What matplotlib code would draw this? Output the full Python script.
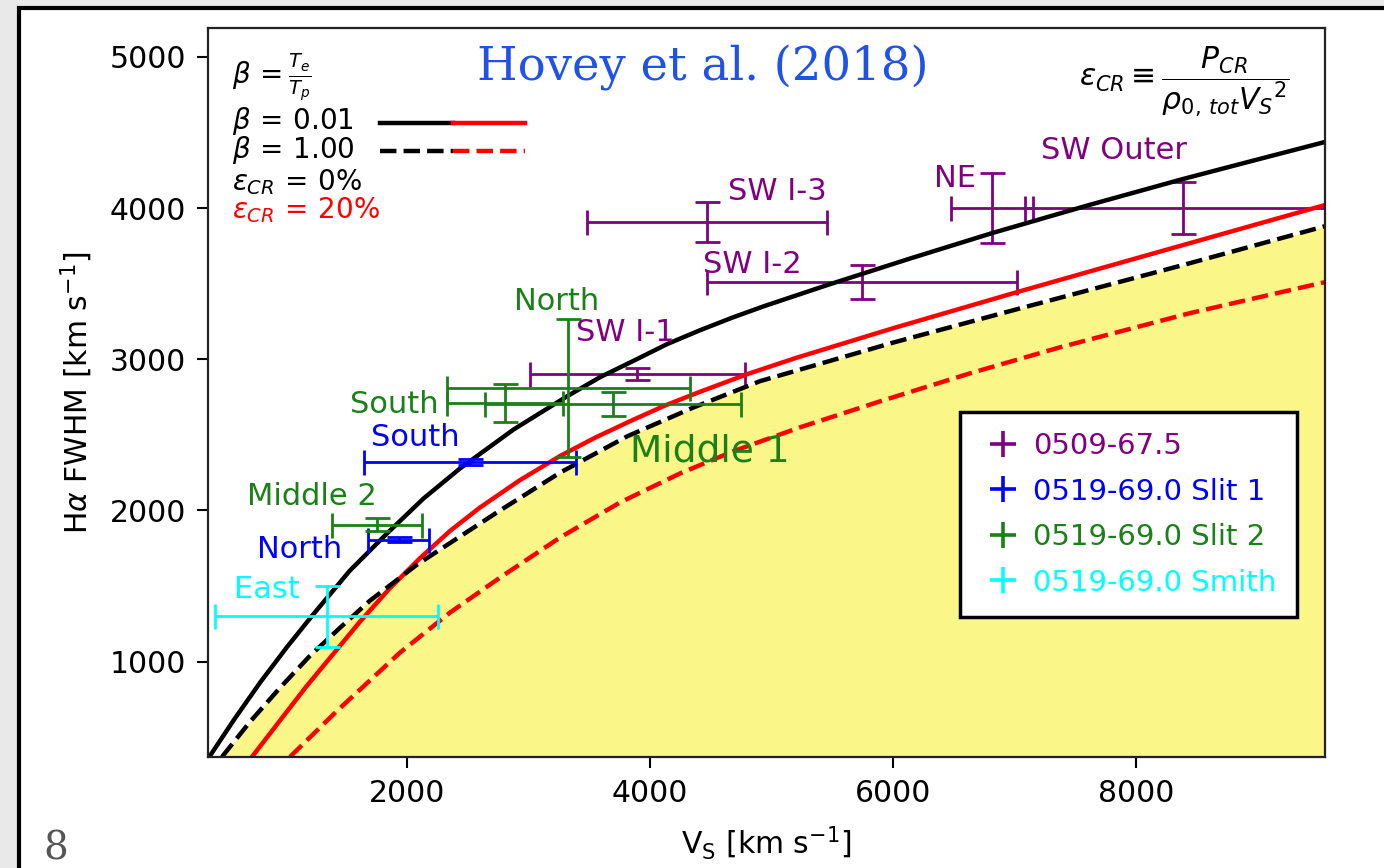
import matplotlib
matplotlib.use("Agg")
import matplotlib.pyplot as plt
from matplotlib.lines import Line2D
from matplotlib.patches import Rectangle
from matplotlib.legend_handler import HandlerTuple

# model curves: shock speed (km/s) vs H-alpha FWHM (km/s)
# beta = 0.01, eps_CR = 0
vs_b001_e0 = [362, 578, 794, 1010, 1226, 1528, 1831, 2134, 2436, 2876, 3317, 3590, 3865,
              4140, 4412, 4670, 4935, 5457, 6136, 6815, 7601, 8387, 8972, 9556]
fw_b001_e0 = [358, 619, 866, 1095, 1311, 1601, 1845, 2078, 2278, 2535, 2755, 2882, 2990,
              3100, 3192, 3273, 3350, 3490, 3665, 3834, 4017, 4192, 4315, 4437]
# beta = 0.01, eps_CR = 20%
vs_b001_e20 = [724, 1168, 1613, 1860, 2107, 2354, 2601, 2930, 3259, 3547, 3835, 4123,
               4412, 4809, 5206, 6000, 7021, 7704, 8387, 9556]
fw_b001_e20 = [371, 833, 1265, 1487, 1685, 1865, 2020, 2201, 2360, 2481, 2590, 2694,
               2785, 2904, 3010, 3205, 3444, 3600, 3755, 4020]
# beta = 1.00, eps_CR = 0
vs_b1_e0 = [477, 708, 955, 1202, 1449, 1695, 2082, 2436, 2765, 3259, 3811, 4354,
            4905, 6000, 7021, 8387, 9556]
fw_b1_e0 = [371, 603, 828, 1040, 1225, 1404, 1642, 1828, 2000, 2250, 2490, 2680,
            2855, 3110, 3331, 3623, 3880]
# beta = 1.00, eps_CR = 20%
vs_b1_e20 = [1037, 1424, 1942, 2354, 2765, 3259, 3753, 4247, 4683, 5235, 5918, 6634,
             7374, 8444, 9556]
fw_b1_e20 = [371, 675, 1060, 1325, 1556, 1821, 2053, 2245, 2391, 2550, 2728, 2907,
             3079, 3305, 3510]

# 0509-67.5
p_names = ["SW I-3", "SW I-2", "SW I-1", "NE", "SW Outer"]
p_vs = [4470, 5745, 3893, 6815, 8387]
p_vs_err = [990, 1275, 885, 337, 1301]
p_fw = [3907, 3510, 2900, 4000, 4000]
p_fw_err = [133, 110, 40, 232, 170]

# 0519-69.0 slit 1
b_names = ["South", "North"]
b_vs = [2518, 1930]
b_vs_err = [870, 250]
b_fw = [2318, 1808]
b_fw_err = [20, 15]

# 0519-69.0 slit 2
g_names = ["North", "South", "Middle 1", "Middle 2"]
g_vs = [3325, 2807, 3695, 1753]
g_vs_err = [1000, 478, 1050, 370]
g_fw = [2808, 2709, 2705, 1907]
g_fw_err = [457, 126, 80, 45]

# 0519-69.0 Smith
c_names = ["East"]
c_vs = [1340]
c_vs_err = [918]
c_fw = [1300]
c_fw_err = [200]

# label anchor positions (data coords)
p_lab_x = [5045, 4840, 3794, 6510, 7819]
p_lab_y = [4106, 3629, 3179, 4192, 4377]
b_lab_x = [2066, 1119]
b_lab_y = [2483, 1742]
g_lab_x = [3235, 1893, 4494, 1218]
g_lab_y = [3384, 2702, 2391, 2093]
c_lab_x = [848]
c_lab_y = [1477]

legend_names = ["0509-67.5", "0519-69.0 Slit 1", "0519-69.0 Slit 2", "0519-69.0 Smith"]

PURPLE = "#800080"
BLUE = "#0000ff"
GREEN = "#1a8017"
CYAN = "#00ffff"
LW = 3.2

fig = plt.figure(figsize=(13.84, 8.68), dpi=100, facecolor="#e9e9e9")
# slide panel with black border on top and left
fig.patches.append(Rectangle((0.0138, -0.2), 1.2, 1.1908, transform=fig.transFigure,
                             facecolor="white", edgecolor="black", lw=3, zorder=-10))

ax = fig.add_axes([0.1503, 0.1279, 0.8071, 0.8398])
ax.set_xlim(362, 9555)
ax.set_ylim(370, 5190)

ax.fill_between(vs_b1_e0, fw_b1_e0, 0, color="#fbf688", lw=0, zorder=1)

ax.plot(vs_b001_e0, fw_b001_e0, color="black", lw=LW, zorder=2)
ax.plot(vs_b001_e20, fw_b001_e20, color="red", lw=LW, zorder=2)
ax.plot(vs_b1_e0, fw_b1_e0, color="black", lw=LW, ls="--", zorder=2)
ax.plot(vs_b1_e20, fw_b1_e20, color="red", lw=LW, ls="--", zorder=2)

eb_kw = dict(fmt="none", elinewidth=2.0, capsize=9, capthick=2.0)
ax.errorbar(p_vs, p_fw, xerr=p_vs_err, yerr=p_fw_err, ecolor=PURPLE, zorder=1.5, **eb_kw)
ax.errorbar(b_vs, b_fw, xerr=b_vs_err, yerr=b_fw_err, ecolor=BLUE, zorder=3, **eb_kw)
ax.errorbar(g_vs, g_fw, xerr=g_vs_err, yerr=g_fw_err, ecolor=GREEN, zorder=3, **eb_kw)
ax.errorbar(c_vs, c_fw, xerr=c_vs_err, yerr=c_fw_err, ecolor=CYAN, zorder=3, **eb_kw)

for names, xs, ys, col in [(p_names, p_lab_x, p_lab_y, PURPLE), (b_names, b_lab_x, b_lab_y, BLUE),
                           (g_names, g_lab_x, g_lab_y, GREEN), (c_names, c_lab_x, c_lab_y, CYAN)]:
    for name, x, y in zip(names, xs, ys):
        size = 27 if name == "Middle 1" else 22
        ax.text(x, y, name, color=col, fontsize=size, ha="center", va="center", zorder=4)

# data legend
handles = [Line2D([], [], ls="none", marker="+", markersize=19, mew=2.6, color=c)
           for c in [PURPLE, BLUE, GREEN, CYAN]]
leg = ax.legend(handles, legend_names, loc="lower right", bbox_to_anchor=(0.975, 0.192),
                fontsize=21, frameon=True, fancybox=False, framealpha=1, edgecolor="black",
                handlelength=1.5, handletextpad=0.3, labelspacing=0.6, borderpad=0.7,
                borderaxespad=0)
leg.get_frame().set_linewidth(2.5)
for t, c in zip(leg.get_texts(), [PURPLE, BLUE, GREEN, CYAN]):
    t.set_color(c)
ax.add_artist(leg)

# model key, top left
k_solid = Line2D([], [], color="black", lw=LW)
r_solid = Line2D([], [], color="red", lw=LW)
k_dash = Line2D([], [], color="black", lw=LW, ls="--")
r_dash = Line2D([], [], color="red", lw=LW, ls="--")
key = ax.legend([(k_solid, r_solid), (k_dash, r_dash)], ["", ""],
                handler_map={tuple: HandlerTuple(ndivide=None, pad=0)},
                loc="upper left", bbox_to_anchor=(0.154, 0.881), frameon=False,
                fontsize=12, handlelength=8.7, handleheight=0.7, handletextpad=0,
                labelspacing=0.6, borderpad=0, borderaxespad=0)

tkw = dict(transform=ax.transAxes, fontsize=20, va="center", ha="left")
ax.text(0.0215, 0.933, r"$\beta\,=\frac{T_e}{T_p}$", **tkw)
ax.text(0.0215, 0.872, r"$\beta\,=\,0.01$", **tkw)
ax.text(0.0215, 0.833, r"$\beta\,=\,1.00$", **tkw)
ax.text(0.0215, 0.789, r"$\varepsilon_{CR}\,=\,0\%$", **tkw)
ax.text(0.0215, 0.750, r"$\varepsilon_{CR}\,=\,20\%$", color="red", **tkw)
ax.text(0.968, 0.926, r"$\varepsilon_{CR} \equiv \dfrac{P_{CR}}{\rho_{0,\,tot}{V_S}^2}$",
        transform=ax.transAxes, fontsize=21.5, va="center", ha="right")

ax.set_xticks([2000, 4000, 6000, 8000])
ax.set_yticks([1000, 2000, 3000, 4000, 5000])
ax.tick_params(labelsize=21.5, length=8, width=1.5, pad=8)
for s in ax.spines.values():
    s.set_linewidth(1.6)
    s.set_color("#222222")
ax.set_xlabel(r"V$_\mathrm{S}$ [km s$^{-1}$]", fontsize=21.5, labelpad=12)
ax.set_ylabel(r"H$\alpha$ FWHM [km s$^{-1}$]", fontsize=21.5, labelpad=10)

fig.text(0.508, 0.9217, "Hovey et al. (2018)", color="#2152e8", fontsize=33.5,
         family="DejaVu Serif", ha="center", va="center")
fig.text(0.04, 0.0, "8", color="#555555", fontsize=28, family="DejaVu Serif",
         ha="center", va="bottom")

fig.savefig("out.png", dpi=100, facecolor=fig.get_facecolor())
